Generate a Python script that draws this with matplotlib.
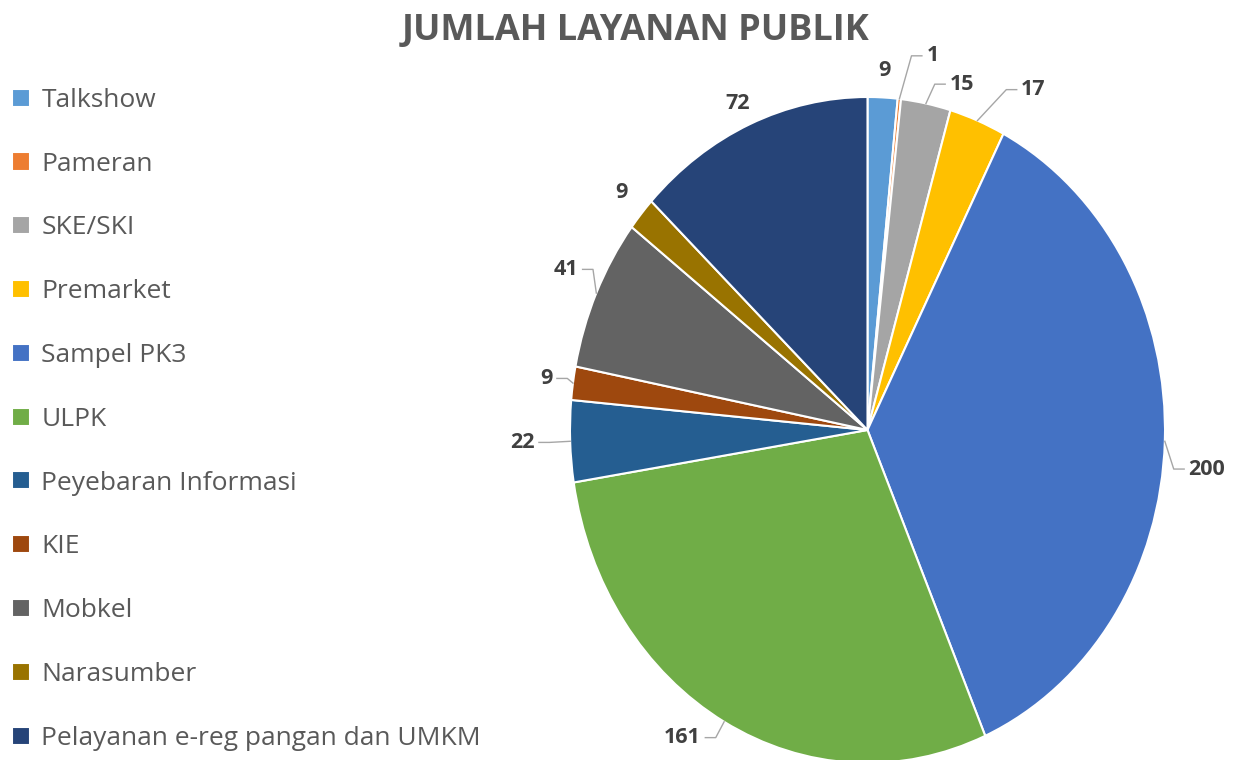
import matplotlib.pyplot as plt
import numpy as np

plt.rcParams['font.family'] = ['Open Sans', 'DejaVu Sans']

categories = ['Talkshow', 'Pameran', 'SKE/SKI', 'Premarket', 'Sampel PK3', 'ULPK',
              'Peyebaran Informasi', 'KIE', 'Mobkel', 'Narasumber',
              'Pelayanan e-reg pangan dan UMKM']
values = [9, 1, 15, 17, 200, 161, 22, 9, 41, 9, 72]
colors = ['#5B9BD5', '#ED7D31', '#A5A5A5', '#FFC000', '#4472C4', '#70AD47',
          '#255E91', '#9E480E', '#636363', '#997300', '#264478']

# label placement: (extra dx, extra dy, draw leader line)
label_style = [(0.0, -0.02, False), (0.08, 0.03, True), (0.06, -0.04, True),
               (0.11, 0.0, True), (-0.02, -0.08, True), (-0.03, 0.04, True),
               (-0.02, 0.0, True), (0.03, 0.0, True), (0.03, 0.03, True),
               (0.01, 0.0, False), (0.0, -0.03, False)]

fig = plt.figure(figsize=(12.39, 7.6), dpi=100)
W, H = 1239, 760
ax = fig.add_axes([570 / W, -3 / H, 595 / W, 666 / H])

wedges, _ = ax.pie(values, colors=colors, startangle=90, counterclock=False,
                   wedgeprops=dict(edgecolor='white', linewidth=1.5))
ax.set_aspect('auto')
ax.set_xlim(-1, 1)
ax.set_ylim(-1, 1)
ax.axis('off')

total = sum(values)
start = 90.0
for v, w, (dx, dy, leader) in zip(values, wedges, label_style):
    sweep = 360.0 * v / total
    mid = np.radians(start - sweep / 2)
    start -= sweep
    cx, cy = np.cos(mid), np.sin(mid)
    tx, ty = 1.1 * cx + dx, 1.1 * cy + dy
    if leader:
        side = 1 if tx > 0 else -1
        ax.plot([cx, tx - side * 0.05, tx - side * 0.015], [cy, ty, ty],
                color='#A6A6A6', lw=1, clip_on=False)
        ax.text(tx, ty, str(v), ha='left' if side > 0 else 'right', va='center',
                fontsize=15.5, fontweight='bold', color='#404040', clip_on=False)
    else:
        ax.text(tx, ty, str(v), ha='center', va='center',
                fontsize=15.5, fontweight='bold', color='#404040', clip_on=False)

fig.text(636 / W, 1 - 31 / H, 'JUMLAH LAYANAN PUBLIK', ha='center', va='center',
         fontsize=26, fontweight='bold', color='#595959')

fig.legend(wedges, categories, loc='upper left', bbox_to_anchor=(0.003, 1 - 80 / H),
           frameon=False, fontsize=19, handlelength=0.68, handleheight=0.68,
           handletextpad=0.45, labelspacing=1.47, labelcolor='#595959',
           borderaxespad=0, borderpad=0.3)

fig.savefig('out.png', dpi=100)
